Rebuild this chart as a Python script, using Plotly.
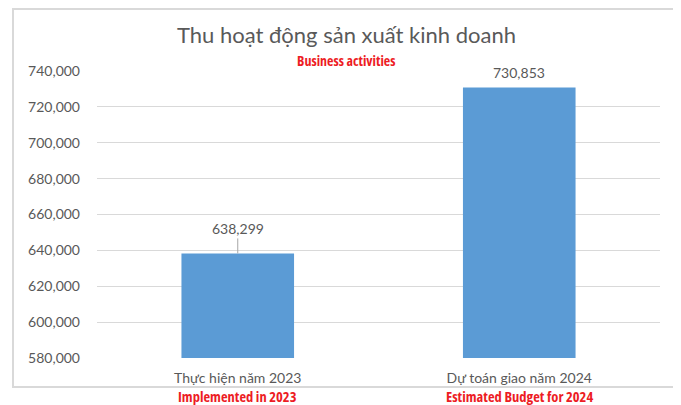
import plotly.graph_objects as go

categories = ["Thực hiện năm 2023", "Dự toán giao năm 2024"]
categories_en = ["Implemented in 2023", "Estimated Budget for 2024"]
values = [638299, 730853]
label_texts = ["638,299", "730,853"]
y_ticks = [580000, 600000, 620000, 640000, 660000, 680000, 700000, 720000, 740000]
y_tick_labels = ["580,000", "600,000", "620,000", "640,000", "660,000", "680,000", "700,000", "720,000", "740,000"]

GRAY = "#595959"
RED = "#ED1C24"
BLUE = "#5B9BD5"
BASE_FONT = "Lato, 'Open Sans', sans-serif"
NARROW_FONT = "'Open Sans', sans-serif"


def narrow(s):
    return f"<span style='font-stretch:condensed'><b>{s}</b></span>"


# page offset (browser body margin) compensation
OFF = 8
W, H = 681 - OFF, 405 - OFF
L = 97 - OFF
T = 71 - OFF
R = W - (660 - OFF)
B = H - (358 - OFF)
pw = W - L - R
ph = H - T - B


def px_x(x):
    return (x - OFF - L) / pw


def px_y(y):
    return (H - B - (y - OFF)) / ph


fig = go.Figure()
fig.add_trace(go.Bar(
    x=categories, y=values, marker=dict(color=BLUE, line=dict(width=0)),
    width=0.4, hoverinfo="skip",
))

annotations = []
annotations.append(dict(
    x=categories[0], y=values[0], xref="x", yref="y", text=label_texts[0],
    showarrow=True, arrowhead=0, arrowwidth=1, arrowcolor="#A6A6A6",
    ax=0, ay=-25, standoff=0, font=dict(family=BASE_FONT, size=14, color=GRAY),
))
annotations.append(dict(
    x=categories[1], y=values[1], xref="x", yref="y", text=label_texts[1],
    showarrow=False, yshift=15, font=dict(family=BASE_FONT, size=14, color=GRAY),
))
for cat, en in zip(categories, categories_en):
    annotations.append(dict(
        x=cat, y=px_y(396), xref="x", yref="paper", text=narrow(en), showarrow=False,
        yanchor="middle", font=dict(family=NARROW_FONT, size=14.5, color=RED),
    ))
annotations.append(dict(
    x=px_x(346), y=px_y(35), xref="paper", yref="paper",
    text="Thu hoạt động sản xuất kinh doanh", showarrow=False, yanchor="middle",
    font=dict(family=BASE_FONT, size=22, color=GRAY),
))
annotations.append(dict(
    x=px_x(346), y=px_y(60), xref="paper", yref="paper",
    text=narrow("Business activities"), showarrow=False, yanchor="middle",
    font=dict(family=NARROW_FONT, size=14, color=RED),
))

fig.update_layout(
    width=W, height=H,
    margin=dict(l=L, r=R, t=T, b=B, autoexpand=False),
    paper_bgcolor="white", plot_bgcolor="white",
    showlegend=False,
    annotations=annotations,
    xaxis=dict(
        showgrid=False, zeroline=False, showline=False, ticks="",
        tickfont=dict(family=BASE_FONT, size=14, color=GRAY), ticklabelstandoff=10,
        fixedrange=True, automargin=False,
    ),
    yaxis=dict(
        range=[580000, 740000], tickvals=y_ticks, ticktext=y_tick_labels,
        showgrid=True, gridcolor="#D9D9D9", gridwidth=1, zeroline=False, showline=False,
        tickfont=dict(family=BASE_FONT, size=14, color=GRAY), ticklabelstandoff=16,
        fixedrange=True, automargin=False,
    ),
    shapes=[dict(
        type="rect", xref="paper", yref="paper",
        x0=px_x(13), x1=px_x(678), y0=px_y(387), y1=px_y(9),
        line=dict(color="#D9D9D9", width=2), fillcolor="rgba(0,0,0,0)", layer="below",
    )],
)

fig.write_html("out.html", config={"displayModeBar": False})
